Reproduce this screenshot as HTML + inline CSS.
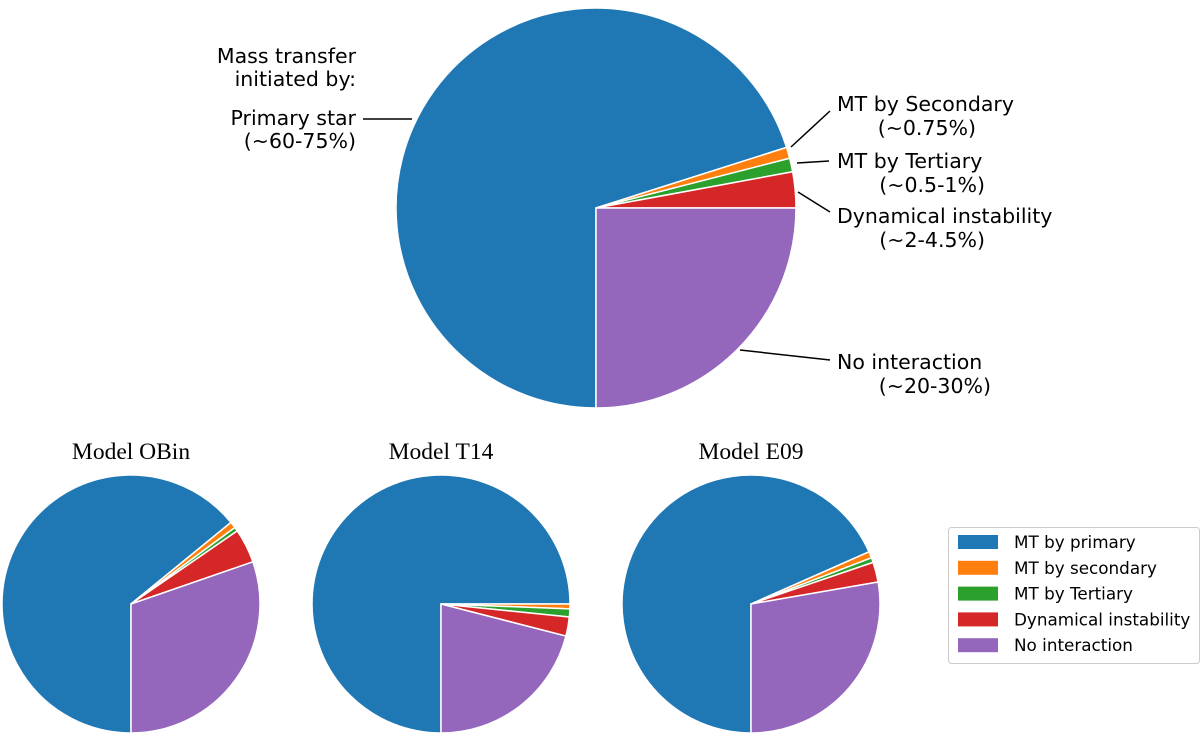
<!DOCTYPE html>
<html><head><meta charset="utf-8"><style>
html,body{margin:0;padding:0;background:#fff;}
svg{display:block;}
.t{font-family:"DejaVu Sans","Liberation Sans",sans-serif;font-size:20.5px;fill:#000;}
.s{font-family:"Liberation Serif","DejaVu Serif",serif;font-size:23.5px;fill:#000;}
.l{font-family:"DejaVu Sans","Liberation Sans",sans-serif;font-size:16.8px;fill:#000;}
</style></head><body>
<svg id="c" width="1200" height="741" viewBox="0 0 1200 741">
<g id="pies"></g>
<g fill="none" stroke="#000" stroke-width="1.5">
<line x1="363" y1="119" x2="412" y2="119"/>
<line x1="791" y1="147" x2="830" y2="111"/>
<line x1="797" y1="163" x2="829" y2="161"/>
<line x1="798" y1="192" x2="830" y2="212"/>
<line x1="740" y1="350" x2="830" y2="360"/>
</g>
<g>
<text class="t" x="356" y="63" text-anchor="end">Mass transfer</text>
<text class="t" x="356" y="86" text-anchor="end">initiated by:</text>
<text class="t" x="356" y="125" text-anchor="end">Primary star</text>
<text class="t" x="356" y="148" text-anchor="end">(~60-75%)</text>
<text class="t" x="837" y="111">MT by Secondary</text>
<text class="t" x="976" y="135" text-anchor="end">(~0.75%)</text>
<text class="t" x="837" y="168">MT by Tertiary</text>
<text class="t" x="985" y="192" text-anchor="end">(~0.5-1%)</text>
<text class="t" x="837" y="223">Dynamical instability</text>
<text class="t" x="985" y="247" text-anchor="end">(~2-4.5%)</text>
<text class="t" x="837" y="369">No interaction</text>
<text class="t" x="991" y="393" text-anchor="end">(~20-30%)</text>
</g>
<text class="s" x="131" y="459" text-anchor="middle">Model OBin</text>
<text class="s" x="441" y="459" text-anchor="middle">Model T14</text>
<text class="s" x="751" y="459" text-anchor="middle">Model E09</text>
<g>
<rect x="948.5" y="527.5" width="251" height="136" rx="3" fill="#fff" stroke="#ccc"/>
<g id="leg"></g>
</g>
</svg>
<script>
const categories = ["MT by primary","MT by secondary","MT by Tertiary","Dynamical instability","No interaction"];
const colors = ["#1f77b4","#ff7f0e","#2ca02c","#d62728","#9467bd"];
const mainValues = [70.1, 0.9, 1.1, 2.9, 25.0];
const obinValues = [64.1, 0.8, 0.5, 4.3, 30.3];
const t14Values = [75.0, 0.6, 1.0, 2.4, 21.0];
const e09Values = [68.3, 0.8, 0.6, 2.5, 27.7];
const NS = "http://www.w3.org/2000/svg";
function drawPie(values, cx, cy, r, name){
  const g = document.getElementById('pies');
  const total = values.reduce((a,b)=>a+b,0);
  let ang = 270;
  values.forEach((v,i)=>{
    const sweep = v/total*360;
    const a0 = ang*Math.PI/180, a1 = (ang-sweep)*Math.PI/180;
    const x0 = cx + r*Math.cos(a0), y0 = cy - r*Math.sin(a0);
    const x1 = cx + r*Math.cos(a1), y1 = cy - r*Math.sin(a1);
    const large = sweep>180?1:0;
    const p = document.createElementNS(NS,'path');
    p.setAttribute('d',`M${cx},${cy} L${x0},${y0} A${r},${r} 0 ${large} 1 ${x1},${y1} Z`);
    p.setAttribute('fill',colors[i]);
    p.setAttribute('stroke','#fff');
    p.setAttribute('stroke-width','1.5');
    p.setAttribute('stroke-linejoin','round');
    
    
    g.appendChild(p);
    ang -= sweep;
  });
}
drawPie(mainValues, 596, 208, 200, 'main-pie');
drawPie(obinValues, 131, 604, 129, 'obin-pie');
drawPie(t14Values, 441, 604, 129, 't14-pie');
drawPie(e09Values, 751, 604, 129, 'e09-pie');
const leg = document.getElementById('leg');
categories.forEach((c,i)=>{
  const y = 535 + i*25.8;
  const r = document.createElementNS(NS,'rect');
  r.setAttribute('x',958); r.setAttribute('y',y); r.setAttribute('width',40); r.setAttribute('height',14);
  r.setAttribute('fill',colors[i]);
  
  
  leg.appendChild(r);
  const t = document.createElementNS(NS,'text');
  t.setAttribute('x',1014); t.setAttribute('y',y+13);
  t.setAttribute('class','l');
  t.textContent = c;
  
  
  leg.appendChild(t);
});
</script>
</body></html>
